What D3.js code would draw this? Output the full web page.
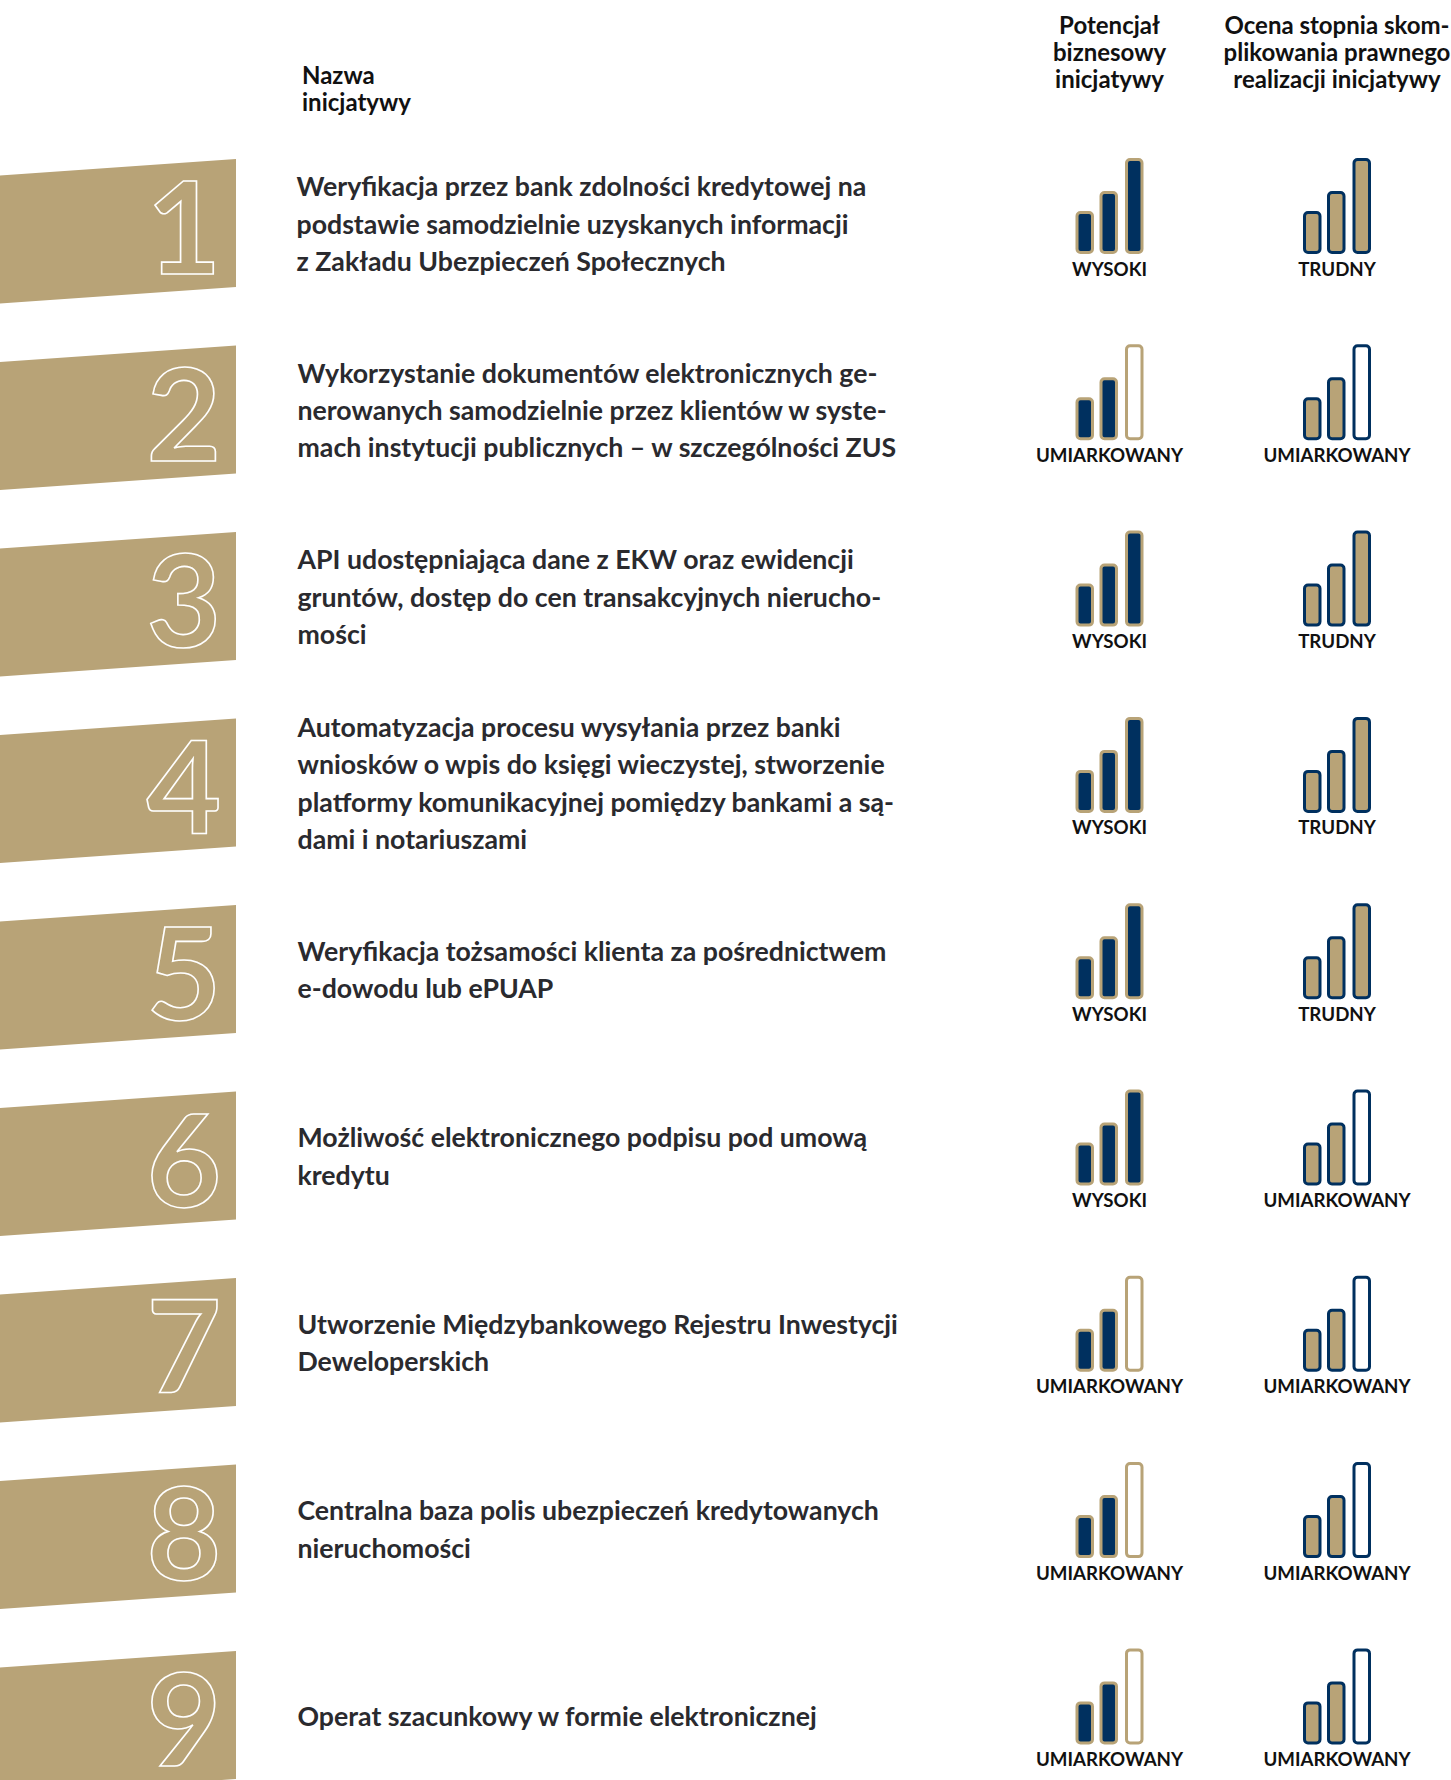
<!DOCTYPE html>
<html lang="pl">
<head>
  <meta charset="UTF-8">
  <title>Inicjatywy</title>
  <style>
    body { margin: 0; background: #fff; }
    svg { display: block; font-family: Lato, sans-serif; }
  </style>
  <script src="https://d3js.org/d3.v7.min.js"></script>
</head>
<body>
  <div id="chart"></div>
  <script>
    const initiatives = [
      ["Weryfikacja przez bank zdolności kredytowej na", "podstawie samodzielnie uzyskanych informacji", "z Zakładu Ubezpieczeń Społecznych"],
      ["Wykorzystanie dokumentów elektronicznych ge-", "nerowanych samodzielnie przez klientów w syste-", "mach instytucji publicznych – w szczególności ZUS"],
      ["API udostępniająca dane z EKW oraz ewidencji", "gruntów, dostęp do cen transakcyjnych nierucho-", "mości"],
      ["Automatyzacja procesu wysyłania przez banki", "wniosków o wpis do księgi wieczystej, stworzenie", "platformy komunikacyjnej pomiędzy bankami a są-", "dami i notariuszami"],
      ["Weryfikacja tożsamości klienta za pośrednictwem", "e-dowodu lub ePUAP"],
      ["Możliwość elektronicznego podpisu pod umową", "kredytu"],
      ["Utworzenie Międzybankowego Rejestru Inwestycji", "Deweloperskich"],
      ["Centralna baza polis ubezpieczeń kredytowanych", "nieruchomości"],
      ["Operat szacunkowy w formie elektronicznej"]
    ];
    const potential = ["WYSOKI", "UMIARKOWANY", "WYSOKI", "WYSOKI", "WYSOKI", "WYSOKI", "UMIARKOWANY", "UMIARKOWANY", "UMIARKOWANY"];
    const legal = ["TRUDNY", "UMIARKOWANY", "TRUDNY", "TRUDNY", "TRUDNY", "UMIARKOWANY", "UMIARKOWANY", "UMIARKOWANY", "UMIARKOWANY"];
    const levelNames = ["WYSOKI", "TRUDNY", "UMIARKOWANY"];
    const levelFilled = [3, 3, 2];
    const barSteps = [1, 2, 3];
    const barHeights = [43, 63, 96];
    const nameHeader = ["Nazwa", "inicjatywy"];
    const potentialHeader = ["Potencjał", "biznesowy", "inicjatywy"];
    const legalHeader = ["Ocena stopnia skom-", "plikowania prawnego", "realizacji inicjatywy"];

    const gold = "#b8a377";
    const navy = "#00305f";
    const rowStep = 186.5;
    const meterStep = 186.3;

    const svg = d3.select("#chart").append("svg")
      .attr("width", 1451)
      .attr("height", 1780);

    const filled = d3.scaleOrdinal().domain(levelNames).range(levelFilled);
    const barX = d3.scaleOrdinal().domain(barSteps).range([0, 24, 49.5]);
    const barH = d3.scaleOrdinal().domain(barSteps).range(barHeights);

    function header(lines, x, y, anchor) {
      svg.append("text")
        .attr("text-anchor", anchor)
        .attr("font-size", 24)
        .attr("font-weight", 700)
        .attr("fill", "#111")
        .selectAll("tspan")
        .data(lines)
        .join("tspan")
        .attr("x", x)
        .attr("y", (d, i) => y + i * 27)
        .text(d => d);
    }
    header(nameHeader, 302, 83.5, "start");
    header(potentialHeader, 1109.5, 34, "middle");
    header(legalHeader, 1337, 34, "middle");

    // one meter: three rounded bars and the label under them
    function meter(g, x, level, stroke, fill) {
      const m = g.append("g").attr("transform", `translate(${x},0)`);
      m.selectAll("rect")
        .data(barSteps)
        .join("rect")
        .attr("x", d => barX(d) + 1.5)
        .attr("y", d => 95 - barH(d) + 1.5)
        .attr("width", 15.5)
        .attr("height", d => barH(d) - 3)
        .attr("rx", 3.5)
        .attr("stroke", stroke)
        .attr("stroke-width", 3)
        .attr("fill", d => d <= filled(level) ? fill : "#fff");
      m.append("text")
        .attr("x", 34)
        .attr("y", 116.5)
        .attr("text-anchor", "middle")
        .attr("font-size", 18.7)
        .attr("font-weight", 700)
        .attr("fill", "#111")
        .text(level);
    }

    initiatives.forEach((lines, i) => {
      const g = svg.append("g").attr("transform", `translate(0,${159 + i * rowStep})`);

      g.append("path")
        .attr("d", d3.line()([[0, 16.5], [236, 0], [236, 128], [0, 144.5]]) + "Z")
        .attr("fill", gold);

      g.append("text")
        .attr("x", 184)
        .attr("y", 115)
        .attr("text-anchor", "middle")
        .attr("font-size", 129)
        .attr("font-weight", 700)
        .attr("fill", "none")
        .attr("stroke", "#fff")
        .attr("stroke-width", 1.6)
        .text(i + 1);

      const lh = 37.35;
      const top = 65 + 9.6 - (lines.length - 1) * lh / 2;
      g.append("text")
        .attr("font-size", 26.7)
        .attr("font-weight", 700)
        .attr("fill", "#2a2a2e")
        .selectAll("tspan")
        .data(lines)
        .join("tspan")
        .attr("x", i === 0 ? 296.5 : 297.5)
        .attr("y", (d, j) => top + j * lh)
        .text(d => d);

      const mg = svg.append("g").attr("transform", `translate(0,${159 + i * meterStep})`);
      meter(mg, 1075.5, potential[i], gold, navy);
      meter(mg, 1303, legal[i], navy, gold);
    });
  </script>
</body>
</html>
